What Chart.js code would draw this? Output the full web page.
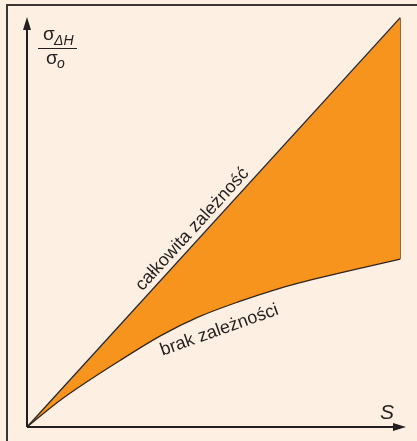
<!DOCTYPE html>
<html>
<head>
<meta charset="utf-8">
<script src="https://cdn.jsdelivr.net/npm/chart.js@4.4.0/dist/chart.umd.min.js"></script>
<style>
  html, body { margin: 0; padding: 0; background: #fdf0e2; }
  #wrap { width: 417px; height: 441px; position: relative; }
  canvas { display: block; }
</style>
</head>
<body>
<div id="wrap"><canvas id="c" width="417" height="441"></canvas></div>
<script>
// S (horizontal axis) positions of the sampled points
const sLower = [0, 9, 25, 36, 46, 57, 66, 73, 100];
// sigma_dH / sigma_o with no dependence (lower bound)
const noDependence = [0, 6.6, 16.3, 22.4, 26.9, 30.7, 33.4, 35.2, 41];
// full dependence: a straight line
const sUpper = [0, 100];
const fullDependence = [0, 100];

const INK = '#231f20';
const ORANGE = '#f7941e';
const BG = '#fdf0e2';

const toPts = (xs, ys) => xs.map((x, i) => ({ x, y: ys[i] }));
const lastS = sUpper[sUpper.length - 1];

const decor = {
  id: 'decor',
  beforeDraw(chart) {
    const ctx = chart.ctx;
    ctx.save();
    ctx.fillStyle = BG;
    ctx.fillRect(0, 0, chart.width, chart.height);
    // panel frame (top + left edges)
    ctx.strokeStyle = '#3b3534';
    ctx.lineWidth = 2;
    ctx.beginPath();
    ctx.moveTo(7, chart.height);
    ctx.lineTo(7, 5);
    ctx.lineTo(chart.width, 5);
    ctx.stroke();
    ctx.restore();
  },
  afterDraw(chart) {
    const ctx = chart.ctx;
    const { x, y } = chart.scales;
    const a = chart.chartArea;
    const ox = x.getPixelForValue(0), oy = y.getPixelForValue(0);
    ctx.save();
    ctx.strokeStyle = INK;
    ctx.fillStyle = INK;
    ctx.lineWidth = 2;
    // axes
    ctx.beginPath();
    ctx.moveTo(ox, oy); ctx.lineTo(a.right - 10, oy);
    ctx.moveTo(ox, oy); ctx.lineTo(ox, a.top + 10);
    ctx.stroke();
    // arrowheads
    ctx.beginPath();
    ctx.moveTo(a.right, oy); ctx.lineTo(a.right - 13, oy - 4); ctx.lineTo(a.right - 13, oy + 4); ctx.closePath();
    ctx.moveTo(ox, a.top); ctx.lineTo(ox - 4, a.top + 13); ctx.lineTo(ox + 4, a.top + 13); ctx.closePath();
    ctx.fill();

    // axis titles
    ctx.fillStyle = INK;
    ctx.textBaseline = 'alphabetic';
    ctx.textAlign = 'left';
    ctx.font = '19px "Liberation Sans", Arial, sans-serif';
    ctx.fillText('σ', 43, 40);
    ctx.font = 'italic 14px "Liberation Sans", Arial, sans-serif';
    ctx.fillText('ΔH', 54, 45);
    ctx.lineWidth = 1;
    ctx.beginPath();
    ctx.moveTo(38, 48.5); ctx.lineTo(77, 48.5);
    ctx.stroke();
    ctx.font = '19px "Liberation Sans", Arial, sans-serif';
    ctx.fillText('σ', 46, 64);
    ctx.font = 'italic 14px "Liberation Sans", Arial, sans-serif';
    ctx.fillText('o', 57, 68);

    ctx.font = 'italic 21px "Liberation Sans", Arial, sans-serif';
    ctx.fillText('S', 380, 419);

    // label along the full-dependence line
    const p0x = x.getPixelForValue(sUpper[0]), p0y = y.getPixelForValue(fullDependence[0]);
    const p1x = x.getPixelForValue(lastS), p1y = y.getPixelForValue(fullDependence[1]);
    const ang = Math.atan2(p1y - p0y, p1x - p0x);
    const t = 0.465;
    ctx.save();
    ctx.translate(p0x + (p1x - p0x) * t, p0y + (p1y - p0y) * t);
    ctx.rotate(ang);
    ctx.font = '18px "Liberation Sans", Arial, sans-serif';
    ctx.textAlign = 'center';
    ctx.fillText('całkowita zależność', 0, -6);
    ctx.restore();

    // label under the no-dependence curve
    ctx.save();
    ctx.translate(x.getPixelForValue(52), y.getPixelForValue(22.5));
    ctx.rotate(-19.6 * Math.PI / 180);
    ctx.font = '18px "Liberation Sans", Arial, sans-serif';
    ctx.textAlign = 'center';
    ctx.fillText('brak zależności', 0, 0);
    ctx.restore();
    ctx.restore();
  }
};

new Chart(document.getElementById('c'), {
  type: 'line',
  data: {
    datasets: [
      {
        label: 'brak zależności',
        data: toPts(sLower, noDependence),
        borderColor: '#2e2624',
        borderWidth: 1.3,
        pointRadius: 0,
        cubicInterpolationMode: 'monotone',
        fill: false,
        clip: false
      },
      {
        label: 'całkowita zależność',
        data: toPts(sUpper, fullDependence),
        borderColor: '#2e2624',
        borderWidth: 1.3,
        pointRadius: 0,
        backgroundColor: ORANGE,
        fill: { target: 0 },
        clip: false
      },
      {
        label: 'edge',
        data: [
          { x: lastS, y: noDependence[noDependence.length - 1] },
          { x: lastS, y: fullDependence[fullDependence.length - 1] }
        ],
        borderColor: '#6e5038',
        borderWidth: 1.6,
        pointRadius: 0,
        fill: false,
        clip: false
      }
    ]
  },
  options: {
    responsive: false,
    animation: false,
    devicePixelRatio: 1,
    layout: { padding: { left: 27, top: 17, right: 11, bottom: 14 } },
    scales: {
      x: { type: 'linear', min: 0, max: 101.6, display: false },
      y: { type: 'linear', min: 0, max: 100.2, display: false }
    },
    plugins: { legend: { display: false }, tooltip: { enabled: false } }
  },
  plugins: [decor]
});
</script>
</body>
</html>
